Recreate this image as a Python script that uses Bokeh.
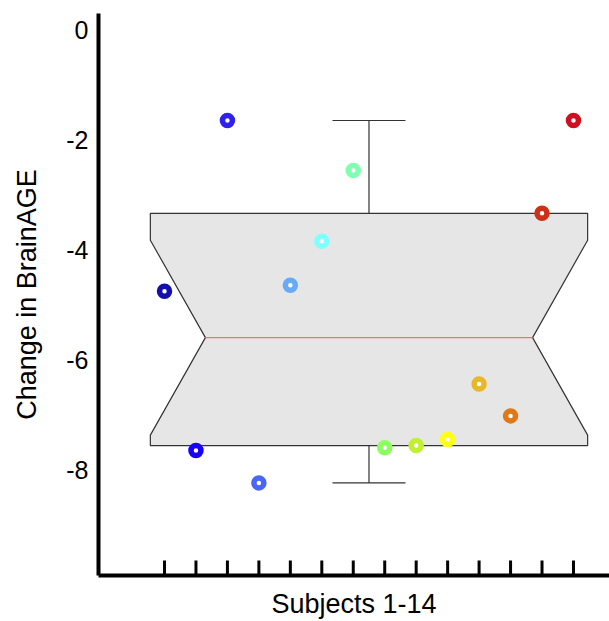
import numpy as np
from bokeh.plotting import figure
from bokeh.models import Range1d, FixedTicker, ColumnDataSource
from bokeh.embed import file_html
from bokeh.resources import INLINE

# ---- data ----
subjects = list(range(1, 15))
brainage_change = [-4.75, -7.65, -1.64, -8.24, -4.64, -3.84, -2.55,
                   -7.60, -7.56, -7.45, -6.44, -7.02, -3.33, -1.64]
point_colors = ["#1410b0", "#1800ff", "#3020f0", "#4a66f4", "#66aaf8", "#80ffff",
                "#80ffb0", "#8cff60", "#c0f030", "#ffff10", "#e8b828", "#e07818",
                "#d03018", "#d01020"]
y_ticks = [0, -2, -4, -6, -8]
y_tick_labels = ["0", "-2", "-4", "-6", "-8"]

# ---- box statistics (MATLAB-style) ----
vals = np.sort(np.array(brainage_change))
n = len(vals)

def prctile(sorted_vals, p):
    pos = len(sorted_vals) * p + 0.5  # 1-based
    lo = int(np.floor(pos))
    frac = pos - lo
    lo = min(max(lo, 1), len(sorted_vals))
    hi = min(lo + 1, len(sorted_vals))
    return sorted_vals[lo - 1] + frac * (sorted_vals[hi - 1] - sorted_vals[lo - 1])

med = float(np.median(vals))
q1 = prctile(vals, 0.25)
q3 = prctile(vals, 0.75)
iqr = q3 - q1
notch_lo = med - 1.57 * iqr / np.sqrt(n)
notch_hi = med + 1.57 * iqr / np.sqrt(n)
whisk_lo = float(vals.min())
whisk_hi = float(vals.max())

cx = float(np.mean(subjects))
hw = 6.95
nw = 5.2
cap = 1.16

FONT = "Liberation Sans"
Y0, Y1 = -9.927, 0.309

p = figure(width=609, height=621, output_backend="svg", toolbar_location=None,
           x_range=Range1d(-1.098, 15.145), y_range=Range1d(Y0, Y1),
           min_border_left=98, min_border_right=0, min_border_top=13,
           min_border_bottom=45)
p.outline_line_color = None
p.xgrid.visible = False
p.ygrid.visible = False
p.background_fill_color = "white"
p.border_fill_color = "white"

# notched box
bx = [cx - hw, cx + hw, cx + hw, cx + nw, cx + hw, cx + hw,
      cx - hw, cx - hw, cx - nw, cx - hw]
by = [q3, q3, notch_hi, med, notch_lo, q1, q1, notch_lo, med, notch_hi]
p.patch(bx, by, fill_color="#e6e6e6", line_color="#333333", line_width=1.2)
p.line([cx - nw, cx + nw], [med, med], line_color="#d08080", line_width=1.2)

# whiskers
p.segment(x0=[cx, cx, cx - cap, cx - cap], y0=[q3, q1, whisk_hi, whisk_lo],
          x1=[cx, cx, cx + cap, cx + cap], y1=[whisk_hi, whisk_lo, whisk_hi, whisk_lo],
          line_color="#333333", line_width=1.2)

# inward subject ticks on the x axis
p.ray(x=subjects, y=[Y0] * len(subjects), length=15, length_units="screen",
      angle=np.pi / 2, line_color="black", line_width=3)

# points
src = ColumnDataSource(dict(x=subjects, y=brainage_change, c=point_colors))
p.scatter("x", "y", source=src, marker="circle", size=10, fill_color="white",
          line_color="c", line_width=5.5)

# axes
xa = p.xaxis[0]
xa.ticker = FixedTicker(ticks=[])
xa.axis_line_width = 4
xa.axis_line_color = "black"
xa.major_tick_line_color = None
xa.minor_tick_line_color = None
xa.major_tick_in = 0
xa.major_tick_out = 0
xa.major_label_standoff = 0
xa.axis_label = "Subjects 1-14"
xa.axis_label_text_font = FONT
xa.axis_label_text_font_size = "27px"
xa.axis_label_text_font_style = "normal"
xa.axis_label_text_color = "black"
xa.axis_label_standoff = 13

ya = p.yaxis[0]
ya.ticker = FixedTicker(ticks=y_ticks)
ya.major_label_overrides = {t: s for t, s in zip(y_ticks, y_tick_labels)}
ya.axis_line_width = 4
ya.axis_line_color = "black"
ya.major_tick_line_color = None
ya.minor_tick_line_color = None
ya.major_tick_in = 0
ya.major_tick_out = 0
ya.major_label_standoff = 10
ya.major_label_text_font = FONT
ya.major_label_text_font_size = "25px"
ya.major_label_text_color = "black"
ya.axis_label = "Change in BrainAGE"
ya.axis_label_text_font = FONT
ya.axis_label_text_font_size = "27px"
ya.axis_label_text_font_style = "normal"
ya.axis_label_text_color = "black"
ya.axis_label_standoff = 21

open("out.html", "w").write(file_html(p, INLINE))
